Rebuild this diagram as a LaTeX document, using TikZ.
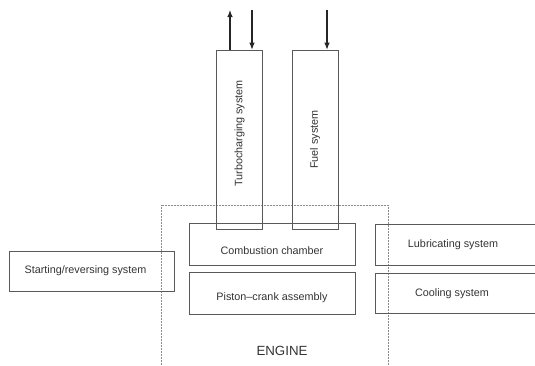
\documentclass[tikz,border=0pt]{standalone}
\usepackage{fontspec}
\setmainfont{Liberation Sans}
\usetikzlibrary{arrows.meta, positioning}

\begin{document}
\begin{tikzpicture}[x=1pt, y=-1pt,
  sysbox/.style={draw=black!65, line width=0.6pt, rectangle, inner sep=0pt,
    text=black!80, font=\fontsize{10.8}{13}\selectfont},
  flow/.style={draw=black!85, line width=1.1pt, -{Latex[length=7pt,width=5.5pt]}},
  enginebound/.style={draw=black!45, line width=0.7pt, dash pattern=on 1pt off 0.5pt}]
\useasboundingbox (0,0) rectangle (535,365);

% boundary of the engine (open at the bottom)
\draw[enginebound] (161,365) |- (388,205) -- (388,365);
\node[text=black!80, font=\fontsize{13.3}{15}\selectfont] (engine) at (282,351) {ENGINE};

% systems on top
\node[sysbox, minimum width=46pt, minimum height=179pt] (turbo) at (239.5,139.5)
  {\rotatebox{90}{\hspace*{12pt}Turbocharging system}};
\node[sysbox, minimum width=46pt, minimum height=179pt] (fuel) at (315,139.5)
  {\rotatebox{90}{Fuel system}};

% inside the engine
\node[sysbox, minimum width=166pt, minimum height=42pt] (chamber) at (272,244)
  {\raisebox{-10pt}[0pt][0pt]{Combustion chamber}};
\node[sysbox, minimum width=166pt, minimum height=42pt, below=7pt of chamber] (piston)
  {\raisebox{-7pt}[0pt][0pt]{Piston--crank assembly}};

% left and right
\node[sysbox, minimum width=165pt, minimum height=40pt] (starting) at (91.5,271)
  {\hspace*{-12pt}Starting/reversing system};
\node[sysbox, minimum width=162pt, minimum height=41pt] (lubric) at (456,244.5)
  {\hspace*{-6pt}Lubricating system};
\node[sysbox, minimum width=162pt, minimum height=40pt, below=8pt of lubric] (cooling)
  {\hspace*{-8pt}Cooling system};

% gas and fuel flows
\coordinate (exhaust) at (230,10);
\coordinate (air) at (252,10);
\coordinate (fuelin) at (327,10);
\draw[flow] (turbo.north -| exhaust) -- (exhaust);
\draw[flow] (air) -- (air |- turbo.north);
\draw[flow] (fuelin) -- (fuelin |- fuel.north);
\end{tikzpicture}
\end{document}
